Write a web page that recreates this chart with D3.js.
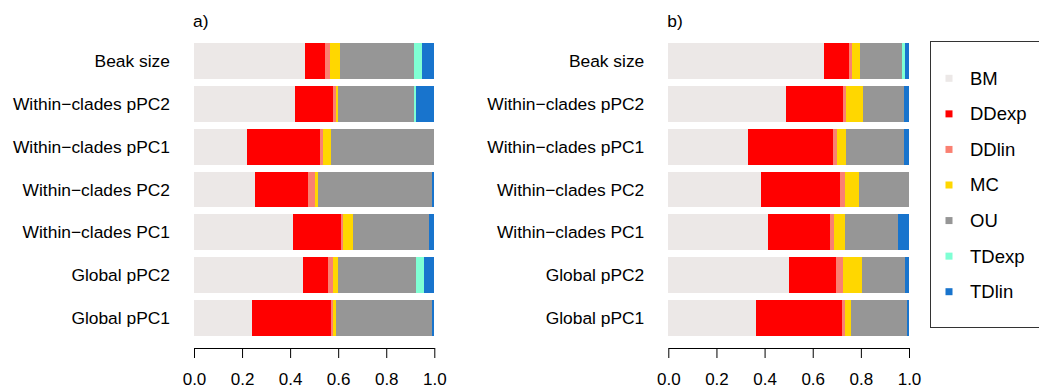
<!DOCTYPE html>
<html>
<head>
<meta charset="utf-8">
<script src="https://cdn.jsdelivr.net/npm/d3@7"></script>
<style>
  body { margin: 0; background: #fff; }
  svg { display: block; font-family: "Liberation Sans", Arial, sans-serif; }
</style>
</head>
<body>
<svg id="chart" width="1039" height="389"></svg>
<script>
// 分类（从上到下）
const categories = [
    'Beak size',
    'Within\u2212clades pPC2',
    'Within\u2212clades pPC1',
    'Within\u2212clades PC2',
    'Within\u2212clades PC1',
    'Global pPC2',
    'Global pPC1'
];

// 模型与颜色
const models = ['BM', 'DDexp', 'DDlin', 'MC', 'OU', 'TDexp', 'TDlin'];
const colors = ['#ECE8E7', '#FF0000', '#FA8072', '#FFD700', '#969696', '#7FFFD4', '#1874CD'];

// 面板 a) 每行一个分类，列顺序同 models
const valuesA = [
    [0.462, 0.083, 0.021, 0.041, 0.308, 0.034, 0.051],
    [0.420, 0.158, 0.013, 0.008, 0.316, 0.009, 0.075],
    [0.221, 0.303, 0.013, 0.033, 0.430, 0.000, 0.000],
    [0.254, 0.220, 0.029, 0.013, 0.474, 0.000, 0.010],
    [0.412, 0.200, 0.008, 0.042, 0.316, 0.000, 0.022],
    [0.454, 0.104, 0.020, 0.021, 0.325, 0.033, 0.043],
    [0.241, 0.329, 0.008, 0.013, 0.399, 0.000, 0.010]
];

// 面板 b)
const valuesB = [
    [0.647, 0.104, 0.012, 0.033, 0.175, 0.012, 0.017],
    [0.489, 0.237, 0.012, 0.071, 0.170, 0.000, 0.021],
    [0.331, 0.353, 0.017, 0.037, 0.241, 0.000, 0.021],
    [0.385, 0.328, 0.021, 0.058, 0.208, 0.000, 0.000],
    [0.414, 0.258, 0.016, 0.046, 0.220, 0.000, 0.046],
    [0.501, 0.196, 0.029, 0.079, 0.178, 0.000, 0.017],
    [0.364, 0.358, 0.012, 0.025, 0.233, 0.000, 0.008]
];

const xTicks = [0, 0.2, 0.4, 0.6, 0.8, 1.0];

const svg = d3.select('#chart');
const color = d3.scaleOrdinal().domain(models).range(colors);

const y = d3.scaleBand()
    .domain(categories)
    .range([43, 336])
    .paddingInner(0.16)
    .paddingOuter(0);

// 画一个面板
function drawPanel(values, x0, x1, title) {
    const x = d3.scaleLinear().domain([0, 1]).range([x0, x1]);

    const rows = categories.map((c, i) => {
        const r = { cat: c };
        models.forEach((m, j) => r[m] = values[i][j]);
        return r;
    });
    const series = d3.stack().keys(models)(rows);

    const g = svg.append('g');

    g.selectAll('g.layer')
        .data(series)
        .enter().append('g')
        .attr('class', 'layer')
        .attr('fill', d => color(d.key))
        .selectAll('rect')
        .data(d => d)
        .enter().append('rect')
        .attr('x', d => x(d[0]))
        .attr('width', d => Math.max(0, x(d[1]) - x(d[0])))
        .attr('y', d => y(d.data.cat))
        .attr('height', y.bandwidth())
        .attr('shape-rendering', 'crispEdges');

    // 分类标签
    g.selectAll('text.cat')
        .data(categories)
        .enter().append('text')
        .attr('class', 'cat')
        .attr('x', x0 - 24)
        .attr('y', d => y(d) + y.bandwidth() / 2)
        .attr('dy', '0.35em')
        .attr('text-anchor', 'end')
        .attr('font-size', 17.4)
        .attr('fill', '#000')
        .text(d => d);

    // x 轴
    const axis = d3.axisBottom(x)
        .tickValues(xTicks)
        .tickFormat(d3.format('.1f'))
        .tickSize(10)
        .tickSizeOuter(0)
        .tickPadding(15);

    const ax = g.append('g')
        .attr('transform', 'translate(0,348)')
        .call(axis);
    ax.selectAll('path, line').attr('stroke', '#000');
    ax.selectAll('text').attr('font-size', 17).attr('font-family', null).attr('fill', '#000');

    // 面板标题
    g.append('text')
        .attr('x', x0 - 1)
        .attr('y', 27)
        .attr('font-size', 17.4)
        .text(title);
}

drawPanel(valuesA, 194, 434.3, 'a)');
drawPanel(valuesB, 668.3, 909, 'b)');

// 图例
const legend = svg.append('g');
legend.append('rect')
    .attr('x', 930.5)
    .attr('y', 41.5)
    .attr('width', 140)
    .attr('height', 286)
    .attr('fill', 'none')
    .attr('stroke', '#333')
    .attr('stroke-width', 1);

const ly = d3.scalePoint().domain(models).range([78.3, 291.7]);

const items = legend.selectAll('g.item')
    .data(models)
    .enter().append('g')
    .attr('class', 'item')
    .attr('transform', d => `translate(0,${ly(d)})`);

items.append('rect')
    .attr('x', 945.5)
    .attr('y', -3.5)
    .attr('width', 7)
    .attr('height', 7)
    .attr('fill', d => color(d));

items.append('text')
    .attr('x', 970)
    .attr('dy', '0.35em')
    .attr('font-size', 18.5)
    .text(d => d);
</script>
</body>
</html>
